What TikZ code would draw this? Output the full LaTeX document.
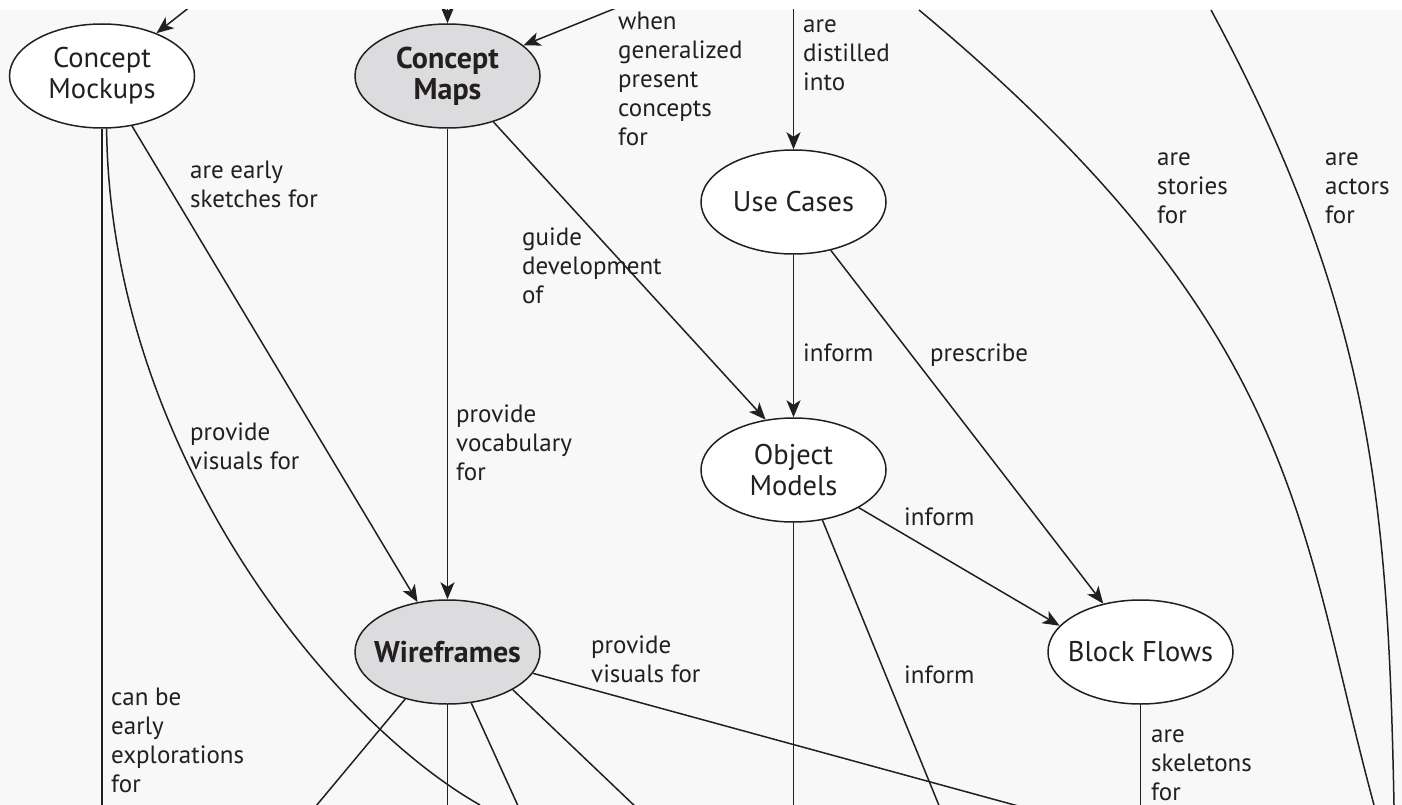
\documentclass[tikz,border=0pt]{standalone}
\usepackage{fontspec}
\setmainfont{PT Sans}
\usetikzlibrary{shapes.geometric,arrows.meta}
\definecolor{bg}{HTML}{F8F8F8}
\definecolor{nodegray}{HTML}{DCDCDE}
\definecolor{ink}{HTML}{231F20}
\begin{document}
\begin{tikzpicture}[x=1pt,y=-1pt,
  concept/.style={ellipse, draw=ink, line width=1.5pt, fill=white, minimum width=185pt, minimum height=104pt, inner sep=0pt, align=center, font=\fontsize{28.5}{31}\selectfont, text=ink},
  key/.style={concept, fill=nodegray, font=\fontsize{30}{31}\selectfont\bfseries},
  lbl/.style={anchor=north west, inner sep=0pt, align=left, font=\fontsize{25}{29}\selectfont, text=ink},
  link/.style={draw=ink, line width=1.5pt},
  arr/.style={link, -{Stealth[length=17pt,width=14pt,inset=4.5pt]}}
]
\useasboundingbox (0,0) rectangle (1402,805);
\fill[white] (0,0) rectangle (1402,805);
\fill[bg] (0,10) rectangle (1402,805);
\begin{scope}
\clip (0,10) rectangle (1402,805);
% nodes
\node[concept] (cmock) at (102,76) {Concept\\Mockups};
\node[key] (cmap) at (447.5,76) {Concept\\Maps};
\node[concept] (uc) at (793.5,202) {\makebox[0pt]{Use Cases}};
\node[concept] (om) at (793.5,470) {Object\\Models};
\node[concept] (bf) at (1140.5,652) {\makebox[0pt]{Block Flows}};
\node[key] (wf) at (447.5,652) {\makebox[0pt]{Wireframes}};
% free ends
\coordinate (srcA) at (242,-34);
\coordinate (srcB) at (447.5,-40);
\coordinate (srcC) at (693,-23);
\coordinate (srcD) at (793.5,-40);
\coordinate (srcE) at (919,10);
\coordinate (srcF) at (1211,10);
\coordinate (endE) at (1374,805);
\coordinate (endF) at (1394,805);
\coordinate (endG) at (480,805);
\coordinate (endH) at (102,830);
\coordinate (endOM1) at (793.5,830);
\coordinate (endOM2) at (949,830);
\coordinate (endBF) at (1140.5,830);
\coordinate (endW1) at (296,830);
\coordinate (endW2) at (447.5,830);
\coordinate (endW3) at (529,830);
\coordinate (endW4) at (660,830);
\coordinate (endW5) at (1106,830);
% connectors
\draw[arr] (srcA) -- (cmock);
\draw[arr] (srcB) -- (cmap);
\draw[arr] (srcC) -- (cmap);
\draw[arr] (srcD) -- (uc);
\draw[link] (srcE) .. controls (1303,330) and (1298,525) .. (endE);
\draw[link] (srcF) .. controls (1373,310) and (1388,505) .. (endF);
\draw[link] (cmock) -- (endH);
\draw[link] (cmock.-85) .. controls (110,450) and (330,720) .. (endG);
\draw[arr] (cmock) -- (wf);
\draw[arr] (cmap) -- (wf);
\draw[arr] (cmap.-45) -- (om.119);
\draw[arr] (uc) -- (om);
\draw[arr] (uc) -- (bf);
\draw[arr] (om.-30) -- (bf.162);
\draw[link] (om) -- (endOM1);
\draw[link] (om.-60) -- (endOM2);
\draw[link] (bf) -- (endBF);
\draw[link] (wf.-132) -- (endW1);
\draw[link] (wf) -- (endW2);
\draw[link] (wf.-65) -- (endW3);
\draw[link] (wf.-30) -- (endW4);
\draw[link] (wf.-14) -- (endW5);
% labels (first baseline minus 20.3)
\node[lbl] (l1) at (618,8.7) {\strut when\\generalized\\present\\concepts\\for};
\node[lbl] (l2) at (803,11.7) {\strut are\\distilled\\into};
\node[lbl] (l3) at (1157,144.7) {\strut are\\stories\\for};
\node[lbl] (l4) at (1325,144.7) {\strut are\\actors\\for};
\node[lbl] (l5) at (190,157.7) {\strut are early\\sketches for};
\node[lbl] (l6) at (522,224.7) {\strut guide\\development\\of};
\node[lbl] (l7) at (803,340.7) {\strut inform};
\node[lbl] (l8) at (930,340.7) {\strut prescribe};
\node[lbl] (l9) at (456,401.7) {\strut provide\\vocabulary\\for};
\node[lbl] (l10) at (190,419.7) {\strut provide\\visuals for};
\node[lbl] (l11) at (904,504.7) {\strut inform};
\node[lbl] (l12) at (591,632.7) {\strut provide\\visuals for};
\node[lbl] (l13) at (904,662.7) {\strut inform};
\node[lbl] (l14) at (111,684.7) {\strut can be\\early\\explorations\\for};
\node[lbl] (l15) at (1151,721.7) {\strut are\\skeletons\\for};
\end{scope}
\end{tikzpicture}
\end{document}
